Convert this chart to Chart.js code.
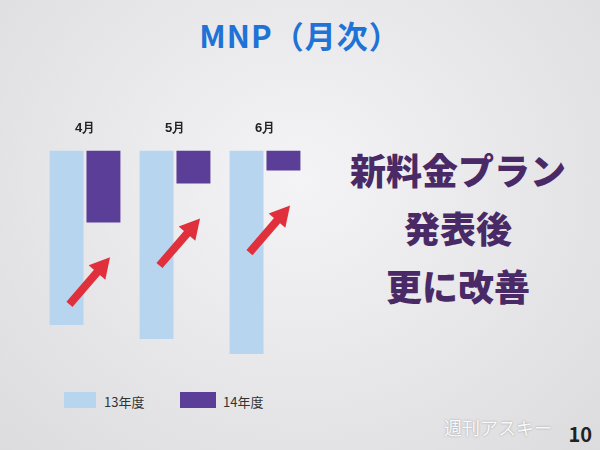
<!DOCTYPE html>
<html><head><meta charset="utf-8">
<script src="https://cdn.jsdelivr.net/npm/chart.js@4"></script>
<style>
body{margin:0;width:600px;height:450px;overflow:hidden;background:radial-gradient(ellipse at 50% 40%,#f4f4f6,#dcdcdf);font-family:"Noto Sans CJK JP",sans-serif;position:relative}
#title{position:absolute;top:12px;left:0;width:600px;text-align:center;color:#1f72d6;font-size:31px;font-weight:bold;letter-spacing:1px}
#wrap{position:absolute;left:40px;top:115px;width:270px;height:250px}
#msg{position:absolute;left:318px;top:140px;width:280px;text-align:center;color:#4a2a66;font-size:36px;font-weight:900;line-height:58px}
.lg{position:absolute;top:392px;height:16px}
.lt{position:absolute;top:392px;font-size:13px;color:#333}
#pg{position:absolute;right:8px;bottom:2px;font-size:20px;font-weight:bold;color:#222}
#wm{position:absolute;right:48px;bottom:10px;font-size:18px;color:#fff;opacity:.8;text-shadow:0 0 2px #888}
</style></head><body>
<div id="title">MNP（月次）</div>
<div id="wrap"><canvas id="c"></canvas></div>
<div id="msg">新料金プラン<br>発表後<br>更に改善</div>
<div class="lg" style="left:64px;width:32px;background:#b8d5ef"></div><div class="lt" style="left:104px">13年度</div>
<div class="lg" style="left:180px;width:36px;background:#5a3e98"></div><div class="lt" style="left:223px">14年度</div>
<div id="wm">週刊アスキー</div>
<div id="pg">10</div>
<script>
const months = ['4月','5月','6月'];
const fy13 = [-175, -189, -204];
const fy14 = [-72, -33, -20];

const arrows = {
  id: 'arrows',
  afterDatasetsDraw(chart) {
    const ctx = chart.ctx;
    const m1 = chart.getDatasetMeta(1).data;
    m1.forEach((b) => {
      const x1 = b.x + 4, y1 = b.y + 38;
      const x0 = x1 - 38, y0 = y1 + 44;
      const ang = Math.atan2(y1 - y0, x1 - x0);
      ctx.save();
      ctx.strokeStyle = '#e0303c'; ctx.fillStyle = '#e0303c'; ctx.lineWidth = 8;
      ctx.beginPath(); ctx.moveTo(x0, y0);
      ctx.lineTo(x1 - 12 * Math.cos(ang), y1 - 12 * Math.sin(ang)); ctx.stroke();
      ctx.translate(x1, y1); ctx.rotate(ang);
      ctx.beginPath(); ctx.moveTo(4, 0); ctx.lineTo(-16, -11); ctx.lineTo(-16, 11); ctx.closePath(); ctx.fill();
      ctx.restore();
    });
  }
};

new Chart(document.getElementById('c'), {
  type: 'bar',
  data: {
    labels: months,
    datasets: [
      { label: '13年度', data: fy13, backgroundColor: '#b8d5ef', categoryPercentage: 0.82, barPercentage: 0.92 },
      { label: '14年度', data: fy14, backgroundColor: '#5a3e98', categoryPercentage: 0.82, barPercentage: 0.92 }
    ]
  },
  options: {
    responsive: true, maintainAspectRatio: false, animation: false,
    plugins: { legend: { display: false }, tooltip: { enabled: false } },
    scales: {
      x: { position: 'top', grid: { display: false }, border: { display: false },
           ticks: { color: '#222', font: { size: 13, weight: 'bold' }, padding: 6 } },
      y: { display: false, min: -215, max: 0 }
    }
  },
  plugins: [arrows]
});
</script>
</body></html>
